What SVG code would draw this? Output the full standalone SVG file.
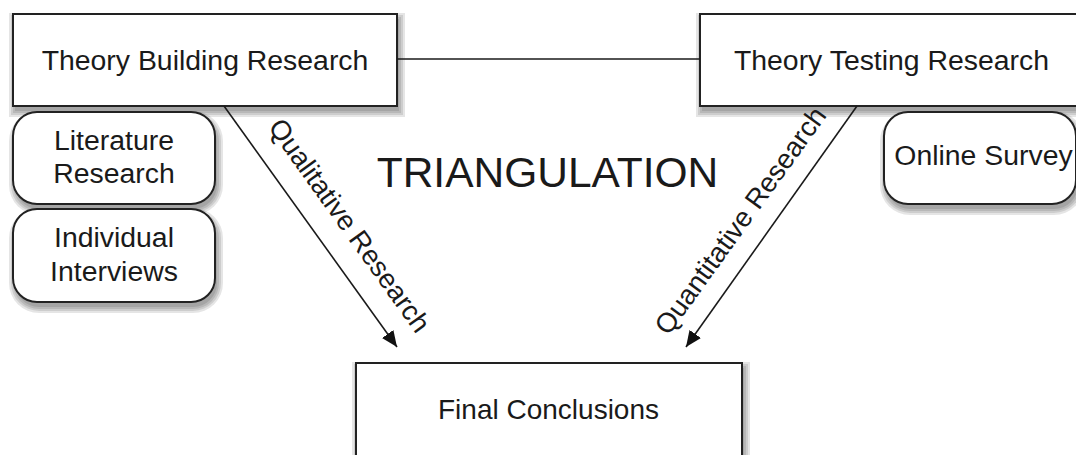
<svg xmlns="http://www.w3.org/2000/svg" width="1076" height="455" viewBox="0 0 1076 455">
  <style>
    .box { fill: #ffffff; stroke: #222222; stroke-width: 2; }
    .lbl { font-family: "Liberation Sans", Arial, sans-serif; fill: #1a1a1a; text-anchor: middle; font-size: 28.4px; }
    .edge { stroke: #1a1a1a; stroke-width: 1.6; fill: none; }
  </style>
  <defs>
    <marker id="arrow" viewBox="0 0 16 14" refX="16" refY="7" markerWidth="16" markerHeight="14" markerUnits="userSpaceOnUse" orient="auto">
      <path d="M0,0 L16,7 L0,14 Z" fill="#111111"/>
    </marker>
  </defs>
  <rect width="1076" height="455" fill="#ffffff"/>

  <g id="theory-building">
    <g fill="#000000" fill-opacity="0.1">
      <rect x="9" y="13" width="396" height="104"/>
      <rect x="11" y="15" width="392" height="100"/>
      <rect x="13" y="17" width="388" height="96"/>
      <rect x="15" y="19" width="384" height="92"/>
    </g>
    <rect class="box" x="13" y="14" width="384" height="92"/>
    <text class="lbl" x="205" y="70">Theory Building Research</text>
  </g>

  <g id="theory-testing">
    <g fill="#000000" fill-opacity="0.1">
      <rect x="696" y="13" width="402" height="104"/>
      <rect x="698" y="15" width="398" height="100"/>
      <rect x="700" y="17" width="394" height="96"/>
      <rect x="702" y="19" width="390" height="92"/>
    </g>
    <rect class="box" x="700" y="14" width="390" height="92"/>
    <text class="lbl" x="891.5" y="70">Theory Testing Research</text>
  </g>

  <g id="literature-research">
    <g fill="#000000" fill-opacity="0.1">
      <rect x="9" y="111" width="214" height="104" rx="30"/>
      <rect x="11" y="113" width="210" height="100" rx="28"/>
      <rect x="13" y="115" width="206" height="96" rx="26"/>
      <rect x="15" y="117" width="202" height="92" rx="24"/>
    </g>
    <rect class="box" x="13" y="112" width="202" height="92" rx="24" ry="24"/>
    <text class="lbl" x="114" y="150">Literature</text>
    <text class="lbl" x="114" y="183">Research</text>
  </g>

  <g id="individual-interviews">
    <g fill="#000000" fill-opacity="0.1">
      <rect x="9" y="208" width="214" height="105" rx="30"/>
      <rect x="11" y="210" width="210" height="101" rx="28"/>
      <rect x="13" y="212" width="206" height="97" rx="26"/>
      <rect x="15" y="214" width="202" height="93" rx="24"/>
    </g>
    <rect class="box" x="13" y="209" width="202" height="93" rx="24" ry="24"/>
    <text class="lbl" x="114" y="247">Individual</text>
    <text class="lbl" x="114" y="281">Interviews</text>
  </g>

  <g id="online-survey">
    <g fill="#000000" fill-opacity="0.1">
      <rect x="880" y="111" width="204" height="104" rx="30"/>
      <rect x="882" y="113" width="200" height="100" rx="28"/>
      <rect x="884" y="115" width="196" height="96" rx="26"/>
      <rect x="886" y="117" width="192" height="92" rx="24"/>
    </g>
    <rect class="box" x="884" y="112" width="192" height="92" rx="24" ry="24"/>
    <text class="lbl" x="983.5" y="165">Online Survey</text>
  </g>

  <g id="final-conclusions">
    <g fill="#000000" fill-opacity="0.1">
      <rect x="352" y="362" width="398" height="122"/>
      <rect x="354" y="364" width="394" height="118"/>
      <rect x="356" y="366" width="390" height="114"/>
      <rect x="358" y="368" width="386" height="110"/>
    </g>
    <rect class="box" x="356" y="363" width="386" height="110"/>
    <text class="lbl" style="font-size:28px" x="548.5" y="419">Final Conclusions</text>
  </g>

  <g id="triangulation">
    <text class="lbl" style="font-size:42.5px" x="547.5" y="187">TRIANGULATION</text>
  </g>

  <g id="connectors">
    <line class="edge" x1="397" y1="59" x2="700" y2="59"/>
    <line class="edge" x1="224" y1="106" x2="397" y2="347" marker-end="url(#arrow)"/>
    <line class="edge" x1="857" y1="106" x2="686" y2="347" marker-end="url(#arrow)"/>
    <text class="lbl" style="font-size:27.5px" transform="translate(342,231) rotate(54.3)">Qualitative Research</text>
    <text class="lbl" style="font-size:27.5px" transform="translate(748,226) rotate(-54.3)">Quantitative Research</text>
  </g>
</svg>
